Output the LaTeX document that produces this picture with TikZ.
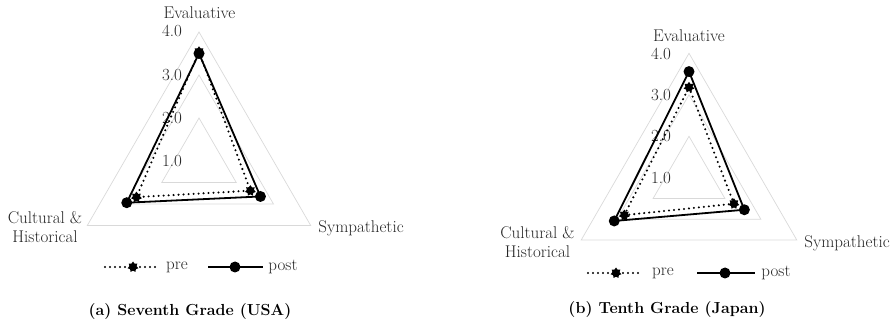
\documentclass[tikz,border=0pt]{standalone}
\usetikzlibrary{shapes.geometric}
\definecolor{gridc}{HTML}{D9D9D9}
\definecolor{labc}{HTML}{262626}
\tikzset{
  gridtri/.style={draw=gridc, line width=0.7pt},
  lab/.style={text=labc, font=\fontsize{17}{19}\selectfont, inner sep=0pt, align=center},
  captext/.style={text=black, font=\bfseries\fontsize{16}{18}\selectfont, inner sep=0pt},
  postline/.style={draw=black, line width=1.8pt},
  preline/.style={draw=black, line width=2.3pt, line cap=round, dash pattern=on 0pt off 5pt},
  postmark/.style={circle, fill=black, minimum size=11pt, inner sep=0pt},
  premark/.style={star, star points=7, star point ratio=1.5, fill=black, minimum size=11pt, inner sep=0pt},
}
\begin{document}
\begin{tikzpicture}[x=1pt,y=1pt]
\useasboundingbox (0,0) rectangle (894,324);
% ---------------- chart (a)
\begin{scope}[shift={(199,163)}]
  \foreach \k in {1,2,3}
    \draw[gridtri] (90:{\k*43}) -- (210:{\k*43}) -- (330:{\k*43}) -- cycle;
  \node[lab] (aL1) at (-27,0) {1.0};
  \node[lab] (aL2) at (-27,43) {2.0};
  \node[lab] (aL3) at (-27,86) {3.0};
  \node[lab] (aL4) at (-27,130) {4.0};
  \coordinate (aEpre) at (90:{2.54*43});
  \coordinate (aCpre) at (210:{1.68*43});
  \coordinate (aSpre) at (330:{1.38*43});
  \coordinate (aEpost) at (90:{2.50*43});
  \coordinate (aCpost) at (210:{1.94*43});
  \coordinate (aSpost) at (330:{1.65*43});
  \draw[preline] (aEpre) -- (aSpre) -- (aCpre) -- cycle;
  \draw[postline] (aEpost) -- (aSpost) -- (aCpost) -- cycle;
  \foreach \p in {aEpre,aCpre,aSpre} \node[premark] at (\p) {};
  \foreach \p in {aEpost,aCpost,aSpost} \node[postmark] at (\p) {};
\end{scope}
\node[lab] (aEval) at (199.5,311) {Evaluative};
\node[lab] (aCult) at (45,97) {Cultural \&\\Historical};
\node[lab] (aSymp) at (361,96) {Sympathetic};
% legend (a)
\coordinate (aLa1) at (105,57); \coordinate (aLa2) at (157,57);
\draw[preline] (aLa1) -- (aLa2);
\node[premark] (aLpm) at (133,57) {};
\node[lab] (aLpre) at (177,57) {pre};
\coordinate (aLb1) at (208,57); \coordinate (aLb2) at (263,57);
\draw[postline] (aLb1) -- (aLb2);
\node[postmark] (aLqm) at (235,57) {};
\node[lab] (aLpost) at (283,57) {post};
\node[captext] (aCap) at (190,12) {(a) Seventh Grade (USA)};
% ---------------- chart (b)
\begin{scope}[shift={(689,146.2)}]
  \foreach \k in {1,2,3}
    \draw[gridtri] (90:{\k*41.5}) -- (210:{\k*41.5}) -- (330:{\k*41.5}) -- cycle;
  \node[lab] (bL1) at (-28,0) {1.0};
  \node[lab] (bL2) at (-28,41.5) {2.0};
  \node[lab] (bL3) at (-28,83) {3.0};
  \node[lab] (bL4) at (-28,124) {4.0};
  \coordinate (bEpre) at (90:{2.18*41.5});
  \coordinate (bCpre) at (210:{1.80*41.5});
  \coordinate (bSpre) at (330:{1.25*41.5});
  \coordinate (bEpost) at (90:{2.56*41.5});
  \coordinate (bCpost) at (210:{2.08*41.5});
  \coordinate (bSpost) at (330:{1.54*41.5});
  \draw[preline] (bEpre) -- (bSpre) -- (bCpre) -- cycle;
  \draw[postline] (bEpost) -- (bSpost) -- (bCpost) -- cycle;
  \foreach \p in {bEpre,bCpre,bSpre} \node[premark] at (\p) {};
  \foreach \p in {bEpost,bCpost,bSpost} \node[postmark] at (\p) {};
\end{scope}
\node[lab] (bEval) at (689,288.5) {Evaluative};
\node[lab] (bCult) at (537.5,82) {Cultural \&\\Historical};
\node[lab] (bSymp) at (847,81) {Sympathetic};
% legend (b)
\coordinate (bLa1) at (588,51); \coordinate (bLa2) at (642,51);
\draw[preline] (bLa1) -- (bLa2);
\node[premark] (bLpm) at (616,51) {};
\node[lab] (bLpre) at (663,51) {pre};
\coordinate (bLb1) at (697,51); \coordinate (bLb2) at (755,51);
\draw[postline] (bLb1) -- (bLb2);
\node[postmark] (bLqm) at (725,51) {};
\node[lab] (bLpost) at (776,51) {post};
\node[captext] (bCap) at (667,14) {(b) Tenth Grade (Japan)};
\end{tikzpicture}
\end{document}
